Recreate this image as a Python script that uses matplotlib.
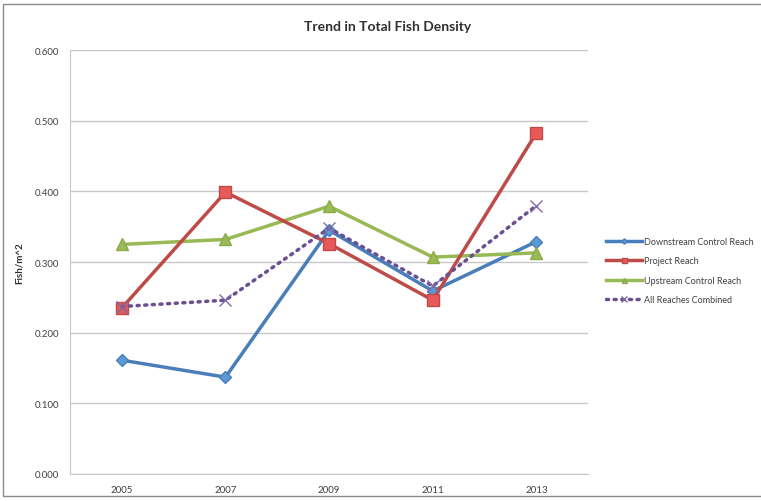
import numpy as np
import matplotlib
matplotlib.use('Agg')
import matplotlib.pyplot as plt
from matplotlib.patches import Rectangle

plt.rcParams['font.family'] = ['Lato', 'DejaVu Sans']

YEARS = ['2005', '2007', '2009', '2011', '2013']
DOWNSTREAM = [0.161, 0.137, 0.345, 0.259, 0.329]
PROJECT = [0.235, 0.399, 0.326, 0.246, 0.483]
UPSTREAM = [0.325, 0.332, 0.379, 0.307, 0.313]
ALL_REACHES = [0.237, 0.246, 0.348, 0.266, 0.380]
Y_TICKS = [0.0, 0.1, 0.2, 0.3, 0.4, 0.5, 0.6]


def main():
    fig = plt.figure(figsize=(7.61, 5.02), dpi=100)
    ax = fig.add_axes([0.092, 0.054, 0.681, 0.844])

    # chart border
    fig.patches.append(Rectangle((0.004, 0.01), 1.0, 0.98, transform=fig.transFigure,
                                 fill=False, edgecolor='#8c8c8c', linewidth=1.0))

    x = np.arange(len(YEARS))
    ax.plot(x, DOWNSTREAM, color='#4a7ebb', lw=2.5, marker='D', ms=6,
            mfc='#5b9bd5', mec='#4a7ebb', label='Downstream Control Reach', zorder=3)
    ax.plot(x, PROJECT, color='#be4b48', lw=2.5, marker='s', ms=8,
            mfc='#e8595a', mec='#be4b48', label='Project Reach', zorder=4)
    ax.plot(x, UPSTREAM, color='#98b954', lw=2.5, marker='^', ms=8,
            mfc='#9bbb59', mec='#8aab48', label='Upstream Control Reach', zorder=3)
    ax.plot(x, ALL_REACHES, color='#6a4f92', lw=2.5, ls=(0, (0.6, 1.6)), dash_capstyle='round',
            marker='x', ms=9, mew=1.0, mec='#7f6aa8', label='All Reaches Combined', zorder=5)

    ax.set_xlim(-0.5, len(YEARS) - 0.5)
    ax.set_ylim(0, 0.6)
    ax.set_xticks(x)
    ax.set_xticklabels(YEARS)
    ax.set_yticks(Y_TICKS)
    ax.set_yticklabels(['%.3f' % v for v in Y_TICKS])
    ax.tick_params(axis='both', length=0, labelsize=7, colors='#404040', pad=8)
    ax.yaxis.grid(True, color='#c8c8c8', lw=1.0)
    ax.set_axisbelow(True)
    for side in ['top', 'right']:
        ax.spines[side].set_visible(False)
    ax.spines['left'].set_color('#c8c8c8')
    ax.spines['bottom'].set_color('#c8c8c8')

    ax.set_ylabel('Fish/m^2', fontsize=7, fontweight='bold', color='#303030', labelpad=8)
    fig.text(0.51, 0.946, 'Trend in Total Fish Density', ha='center', va='center',
             fontsize=10, fontweight='bold', color='#303030')

    leg = ax.legend(loc='center left', bbox_to_anchor=(1.035, 0.48), frameon=False,
                    fontsize=6.5, handlelength=3.9, handletextpad=0.3, markerscale=0.45,
                    labelspacing=1.15, borderpad=0, borderaxespad=0)
    for t in leg.get_texts():
        t.set_color('#404040')

    fig.savefig('out.png', dpi=100)


if __name__ == '__main__':
    main()
